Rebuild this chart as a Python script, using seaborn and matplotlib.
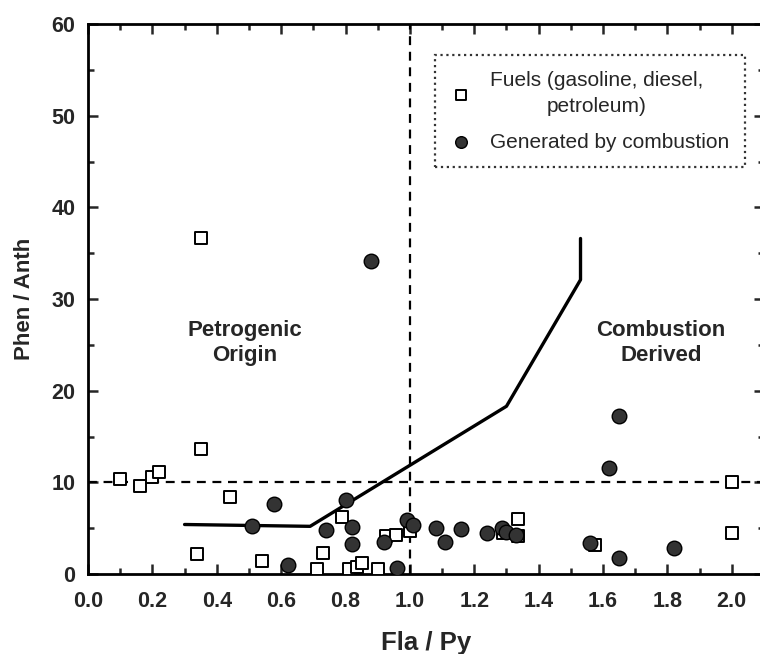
import matplotlib
matplotlib.use("Agg")
import matplotlib.pyplot as plt
from matplotlib.ticker import MultipleLocator
import seaborn as sns
import pandas as pd

# Fuels (gasoline, diesel, petroleum)
fuel_x = [0.10, 0.16, 0.20, 0.22, 0.35, 0.35, 0.44, 0.34, 0.54, 0.71, 0.73, 0.79,
          0.81, 0.835, 0.85, 0.90, 0.925, 0.957, 1.00, 1.29, 1.335, 1.335, 1.575,
          2.00, 2.00]
fuel_y = [10.4, 9.6, 10.6, 11.1, 36.7, 13.6, 8.4, 2.2, 1.4, 0.6, 2.3, 6.2,
          0.6, 0.8, 1.2, 0.6, 4.1, 4.3, 4.7, 4.5, 6.0, 4.1, 3.2,
          10.0, 4.5]

# Generated by combustion
comb_x = [0.88, 0.51, 0.578, 0.62, 0.74, 0.80, 0.82, 0.82, 0.92, 0.96, 0.99, 1.01,
          1.08, 1.11, 1.16, 1.24, 1.285, 1.30, 1.33, 1.56, 1.65, 1.82, 1.62, 1.65]
comb_y = [34.1, 5.2, 7.6, 1.0, 4.8, 8.1, 5.1, 3.3, 3.5, 0.7, 5.9, 5.3,
          5.0, 3.5, 4.9, 4.5, 5.0, 4.6, 4.3, 3.4, 1.8, 2.8, 11.6, 17.2]

# Boundary line
line_x = [0.30, 0.69, 1.30, 1.53, 1.53]
line_y = [5.4, 5.2, 18.3, 32.1, 36.6]

x_ticks = [0.0, 0.2, 0.4, 0.6, 0.8, 1.0, 1.2, 1.4, 1.6, 1.8, 2.0]
x_ticklabels = ["0.0", "0.2", "0.4", "0.6", "0.8", "1.0", "1.2", "1.4", "1.6", "1.8", "2.0"]

fuel_label = "Fuels (gasoline, diesel,\npetroleum)"
comb_label = "Generated by combustion"

sns.set_theme(style="ticks")
plt.rcParams['font.family'] = ['Liberation Sans', 'DejaVu Sans']
plt.rcParams['font.weight'] = 'bold'

fig = plt.figure(figsize=(7.6, 6.54), dpi=100)
ax = fig.add_axes([88/760, 80/654, 676/760, 550/654])

df_f = pd.DataFrame({"x": fuel_x, "y": fuel_y})
df_c = pd.DataFrame({"x": comb_x, "y": comb_y})
df_l = pd.DataFrame({"x": line_x, "y": line_y})

ax.axvline(1.0, color="black", lw=1.6, ls=(0, (4, 3)), zorder=1)
ax.axhline(10.0, color="black", lw=1.6, ls=(0, (4, 3)), zorder=1)

sns.lineplot(data=df_l, x="x", y="y", sort=False, estimator=None, color="black",
             lw=2.4, ax=ax, zorder=2)
sns.scatterplot(data=df_f, x="x", y="y", marker="s", s=75, facecolor="white",
                edgecolor="black", linewidth=1.4, ax=ax, zorder=3, label=fuel_label)
sns.scatterplot(data=df_c, x="x", y="y", marker="o", s=110, facecolor="#333333",
                edgecolor="black", linewidth=1.0, ax=ax, zorder=4, label=comb_label)

ax.set_xlim(0, 2.1)
ax.set_ylim(0, 60)
ax.xaxis.set_major_locator(MultipleLocator(0.2))
ax.xaxis.set_minor_locator(MultipleLocator(0.1))
ax.yaxis.set_major_locator(MultipleLocator(10))
ax.yaxis.set_minor_locator(MultipleLocator(5))
ax.set_xticks(x_ticks)
ax.set_xticklabels(x_ticklabels)
ax.tick_params(which="both", direction="in", top=True, right=True, width=1.8)
ax.tick_params(axis="x", pad=12)
ax.tick_params(axis="y", pad=9)
ax.tick_params(which="major", length=7)
ax.tick_params(which="minor", length=4)
for lab in ax.get_xticklabels() + ax.get_yticklabels():
    lab.set_fontweight("bold")
    lab.set_fontsize(15.5)
for sp in ax.spines.values():
    sp.set_linewidth(2.0)
    sp.set_color("black")

ax.set_xlabel("Fla / Py", fontsize=18.5, fontweight="bold", labelpad=14)
ax.set_ylabel("Phen / Anth", fontsize=16, fontweight="bold", labelpad=12)

ax.text(0.486, 25.2, "Petrogenic\nOrigin", ha="center", va="center", fontsize=16,
        fontweight="bold", linespacing=1.25)
ax.text(1.78, 25.2, "Combustion\nDerived", ha="center", va="center", fontsize=16,
        fontweight="bold", linespacing=1.25)

leg = ax.legend(loc="upper left", bbox_to_anchor=((435-88)/676, (574-55)/550),
                bbox_transform=ax.transAxes, frameon=True, fancybox=False,
                fontsize=15, borderpad=0.75, labelspacing=0.8, handletextpad=0.9,
                handlelength=1.0, borderaxespad=0.0, markerscale=0.8)
frame = leg.get_frame()
frame.set_linestyle(":")
frame.set_linewidth(1.6)
frame.set_edgecolor("black")
for t in leg.get_texts():
    t.set_multialignment("center")
    t.set_fontweight("normal")
    t.set_linespacing(1.5)

fig.savefig("out.png", dpi=100)
